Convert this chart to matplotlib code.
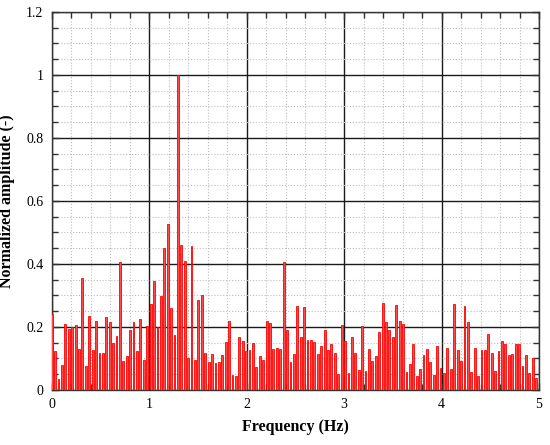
import numpy as np
import matplotlib

matplotlib.use("Agg")
import matplotlib.pyplot as plt
from matplotlib.ticker import MultipleLocator

plt.rcParams.update({
    "font.family": ["Liberation Serif", "DejaVu Serif"],
    "font.size": 10,
})

# frequency resolution and normalized FFT amplitudes
DF = 0.035
AMP = [
    0.241, 0.122, 0.035, 0.079, 0.210, 0.194, 0.199, 0.206, 0.131, 0.356,
    0.076, 0.235, 0.125, 0.219, 0.116, 0.118, 0.232, 0.214, 0.149, 0.170,
    0.407, 0.090, 0.109, 0.189, 0.216, 0.122, 0.225, 0.095, 0.203, 0.274,
    0.346, 0.199, 0.298, 0.450, 0.527, 0.259, 0.175, 1.000, 0.460, 0.410,
    0.100, 0.457, 0.095, 0.285, 0.300, 0.118, 0.087, 0.113, 0.084, 0.089,
    0.112, 0.151, 0.219, 0.048, 0.044, 0.167, 0.155, 0.122, 0.125, 0.149,
    0.073, 0.109, 0.095, 0.219, 0.213, 0.131, 0.134, 0.131, 0.407, 0.189,
    0.087, 0.115, 0.265, 0.167, 0.262, 0.158, 0.158, 0.151, 0.115, 0.138,
    0.189, 0.128, 0.145, 0.118, 0.050, 0.206, 0.154, 0.054, 0.167, 0.118,
    0.063, 0.203, 0.060, 0.131, 0.092, 0.109, 0.183, 0.277, 0.216, 0.189,
    0.167, 0.268, 0.219, 0.210, 0.057, 0.083, 0.144, 0.044, 0.067, 0.112,
    0.131, 0.089, 0.048, 0.138, 0.070, 0.054, 0.134, 0.067, 0.274, 0.125,
    0.092, 0.266, 0.216, 0.057, 0.134, 0.043, 0.125, 0.125, 0.177, 0.118,
    0.060, 0.122, 0.154, 0.145, 0.112, 0.115, 0.145, 0.145, 0.076, 0.112,
    0.054, 0.102, 0.038,
]
freq = np.arange(len(AMP)) * DF

fig = plt.figure(figsize=(5.5, 4.45), dpi=100)
ax = fig.add_axes([0.094, 0.124, 0.886, 0.849])

ax.bar(freq, AMP, width=0.019, color="#ff4a4a", edgecolor="#ff0000",
       linewidth=0.6, zorder=3)

ax.set_xlim(0, 5)
ax.set_ylim(0, 1.2)
ax.xaxis.set_major_locator(MultipleLocator(1))
ax.xaxis.set_minor_locator(MultipleLocator(0.2))
ax.yaxis.set_major_locator(MultipleLocator(0.2))
ax.yaxis.set_minor_locator(MultipleLocator(0.05))
ax.set_yticks(np.arange(0, 1.21, 0.2))
ax.set_yticklabels(["0", "0.2", "0.4", "0.6", "0.8", "1", "1.2"])

ax.grid(which="major", color="#1a1a1a", linestyle="-", linewidth=1.0, zorder=1)
ax.grid(which="minor", color="#bdbdbd", linestyle=":", linewidth=0.8, zorder=0)
ax.set_axisbelow(True)
ax.tick_params(which="both", direction="in", top=True, right=True, color="#333333")
ax.tick_params(which="major", length=5, width=1.0, pad=6)
ax.tick_params(which="minor", length=4, width=1.0)
for s in ax.spines.values():
    s.set_linewidth(1.0)
    s.set_color("#333333")

ax.set_xlabel("Frequency (Hz)", fontsize=11.5, fontweight="bold", labelpad=6)
ax.set_ylabel("Normalized amplitude (-)", fontsize=11.5, fontweight="bold", labelpad=8)

fig.savefig("out.png", dpi=100)
